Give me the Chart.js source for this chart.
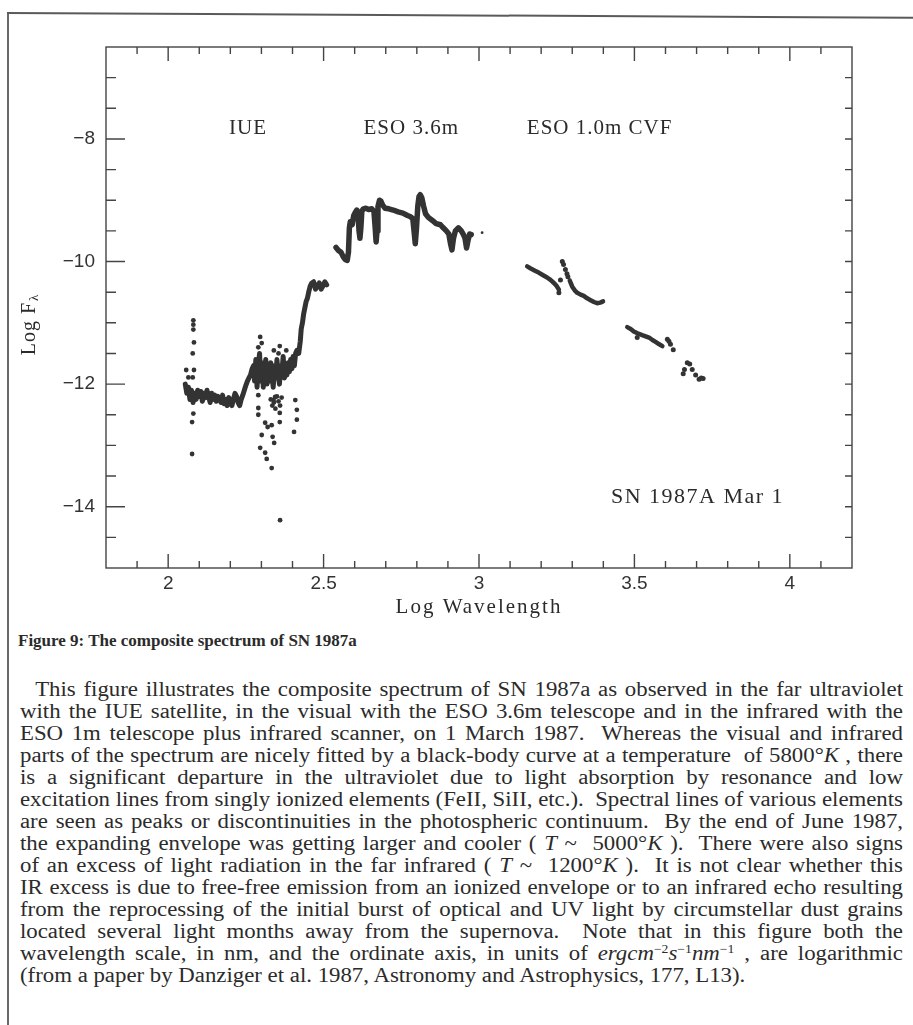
<!DOCTYPE html>
<html>
<head>
<meta charset="utf-8">
<script src="https://cdn.jsdelivr.net/npm/chart.js@4.4.0/dist/chart.umd.min.js"></script>
<style>
  body { margin: 0; background: #fff; width: 913px; height: 1025px; overflow: hidden; position: relative;
         font-family: "Liberation Serif", "Times New Roman", serif; color: #2b2b2b; }
  #pageLeft { position: absolute; left: 7px; top: 12px; height: 1013px; border-left: 2px solid #6a6a6a; }
  #pageTop { position: absolute; left: 7px; top: 12px; width: 906px; border-top: 2px solid #5a5a5a;
             transform: rotate(0.3deg); transform-origin: 0 0; }
  #chartBox { position: absolute; left: 0; top: 0; width: 913px; height: 625px; }
  #caption { position: absolute; left: 18px; top: 631px; font-weight: bold; font-size: 17px; line-height: 20px; }
  #text { position: absolute; left: 20px; top: 678px; transform-origin: 0 0; }
  .line { position: absolute; left: 0; white-space: pre; font-size: 20px; line-height: 22px; }
  sup { font-size: 0.6em; vertical-align: 0.55em; line-height: 0; }
</style>
</head>
<body>
<div id="pageLeft"></div>
<div id="pageTop"></div>
<div id="chartBox"><canvas id="spectrum" width="913" height="625"></canvas></div>
<div id="caption">Figure 9: The composite spectrum of SN 1987a</div>
<div id="text"></div>
<script>
// values: log wavelength (nm) vs log flux
// IUE: thick noisy band + the rise into the visual
const iueX = [2.055, 2.060, 2.065, 2.070, 2.075, 2.080, 2.085, 2.090, 2.095, 2.100,
              2.105, 2.110, 2.115, 2.120, 2.125, 2.130, 2.135, 2.140, 2.145, 2.150,
              2.155, 2.160, 2.165, 2.170, 2.175, 2.180, 2.185, 2.190, 2.195, 2.200,
              2.205, 2.210, 2.215, 2.220, 2.225, 2.230, 2.235, 2.240, 2.245, 2.250,
              2.255, 2.260, 2.265, 2.270, 2.275,
              2.278, 2.282, 2.286, 2.290, 2.294, 2.298, 2.302, 2.306, 2.310, 2.314,
              2.318, 2.322, 2.326, 2.330, 2.334, 2.338, 2.342, 2.346, 2.350, 2.354,
              2.358, 2.362, 2.366, 2.370, 2.374, 2.378, 2.382, 2.386, 2.390, 2.394,
              2.398, 2.402, 2.406, 2.410,
              2.414, 2.420, 2.425, 2.428, 2.432, 2.436, 2.440, 2.444, 2.448, 2.452,
              2.457, 2.462, 2.468, 2.474, 2.480, 2.486, 2.492, 2.498, 2.504, 2.510];
const iueY = [-12.00, -12.15, -12.05, -12.25, -12.10, -12.30, -12.15, -12.25, -12.10, -12.20,
              -12.12, -12.28, -12.15, -12.22, -12.10, -12.20, -12.30, -12.15, -12.25, -12.18,
              -12.28, -12.20, -12.22, -12.30, -12.18, -12.32, -12.25, -12.35, -12.22, -12.30,
              -12.35, -12.25, -12.15, -12.20, -12.30, -12.35, -12.25, -12.18, -12.10, -12.02,
              -11.95, -11.90, -11.85, -11.75, -11.70,
              -11.95, -11.60, -12.05, -11.70, -11.50, -11.95, -11.65, -12.05, -11.80, -11.60,
              -12.00, -11.75, -11.95, -11.65, -11.85, -12.05, -11.70, -11.90, -11.60, -11.85,
              -12.00, -11.70, -11.80, -11.55, -11.90, -11.70, -11.85, -11.65, -11.80, -11.60,
              -11.75, -11.55, -11.70, -11.50,
              -11.45, -11.50, -11.30, -11.10, -11.00, -10.85, -10.75, -10.65, -10.60, -10.50,
              -10.40, -10.35, -10.33, -10.45, -10.40, -10.35, -10.45, -10.40, -10.33, -10.38];
// IUE scattered single points
const iueDotX = [2.081, 2.081, 2.081, 2.083, 2.079, 2.058, 2.083, 2.065, 2.079, 2.081, 2.077, 2.077,
                 2.290, 2.290, 2.290, 2.312, 2.301, 2.296, 2.312, 2.317, 2.333, 2.360,
                 2.320, 2.333, 2.336, 2.341, 2.359, 2.359, 2.339, 2.344, 2.409, 2.414, 2.414, 2.405,
                 2.296, 2.301, 2.359, 2.290, 2.355, 2.340, 2.380,
                 2.330, 2.340, 2.350, 2.360, 2.345, 2.355, 2.365, 2.335];
const iueDotY = [-10.96, -11.03, -11.11, -11.32, -11.50, -11.77, -11.77, -11.89, -11.89, -12.48, -12.62, -13.14,
                 -12.18, -12.39, -12.50, -12.63, -12.83, -13.04, -13.12, -13.22, -13.37, -14.22,
                 -12.70, -12.67, -12.86, -12.96, -12.62, -12.47, -12.26, -12.21, -12.26, -12.42, -12.58, -12.78,
                 -11.23, -11.33, -11.38, -11.40, -11.50, -11.45, -11.45,
                 -12.25, -12.30, -12.20, -12.35, -12.40, -12.28, -12.22, -12.35];

// ESO 3.6m optical spectrum
const esoX = [2.540, 2.548, 2.556, 2.563, 2.570, 2.576, 2.580, 2.583, 2.586, 2.592,
              2.597, 2.602, 2.607, 2.611, 2.614, 2.617, 2.620, 2.623, 2.628, 2.636,
              2.645, 2.655, 2.662, 2.666, 2.669, 2.672, 2.675, 2.680, 2.684, 2.690,
              2.698, 2.710, 2.724, 2.740, 2.755, 2.770, 2.780, 2.787, 2.791, 2.795,
              2.799, 2.803, 2.807, 2.811, 2.816, 2.822, 2.828, 2.837, 2.850, 2.862,
              2.876, 2.885, 2.895, 2.903, 2.908, 2.913, 2.918, 2.924, 2.934, 2.943,
              2.950, 2.955, 2.960, 2.965, 2.970, 2.975];
const esoY = [-9.77, -9.82, -9.85, -9.92, -9.97, -9.98, -9.85, -9.45, -9.35, -9.40,
              -9.25, -9.20, -9.16, -9.22, -9.50, -9.62, -9.45, -9.18, -9.14, -9.13,
              -9.15, -9.14, -9.18, -9.45, -9.68, -9.50, -9.10, -9.00, -9.01, -9.08,
              -9.13, -9.14, -9.16, -9.19, -9.21, -9.25, -9.27, -9.30, -9.50, -9.71,
              -9.45, -9.10, -8.94, -8.91, -8.96, -9.10, -9.22, -9.28, -9.33, -9.38,
              -9.40, -9.45, -9.50, -9.55, -9.70, -9.81, -9.62, -9.50, -9.45, -9.50,
              -9.56, -9.62, -9.78, -9.65, -9.55, -9.56];
const esoDotX = [3.010];
const esoDotY = [-9.53];

// ESO 1.0m CVF infrared points (null = gap between scans)
const cvfX = [3.155, 3.165, 3.180, 3.192, 3.205, 3.219, 3.230, 3.241, 3.250, 3.257, 3.258,
              3.292, 3.300, 3.308, 3.316, 3.327, 3.337, 3.348, 3.359, 3.370, 3.380, 3.390, 3.399, 3.400,
              3.477, 3.488, 3.498, 3.510, 3.525, 3.536, 3.547, 3.558, 3.568, 3.580, 3.590];
const cvfY = [-10.08, -10.11, -10.15, -10.18, -10.22, -10.26, -10.30, -10.35, -10.40, -10.46, null,
              -10.31, -10.41, -10.47, -10.51, -10.54, -10.56, -10.60, -10.63, -10.66, -10.68, -10.67, -10.65, null,
              -11.07, -11.10, -11.14, -11.17, -11.20, -11.22, -11.24, -11.28, -11.31, -11.35, -11.38];
const cvfDotX = [3.262, 3.257, 3.268, 3.272, 3.278, 3.283, 3.286, 3.509, 3.606, 3.611, 3.616, 3.625,
                 3.670, 3.678, 3.661, 3.686, 3.657, 3.697, 3.708, 3.715, 3.721];
const cvfDotY = [-10.30, -10.51, -10.00, -10.05, -10.13, -10.20, -10.25, -11.24, -11.27, -11.30, -11.35, -11.44,
                 -11.65, -11.67, -11.76, -11.76, -11.83, -11.85, -11.92, -11.90, -11.91];

const xTicks = [2, 2.5, 3, 3.5, 4];
const yTicks = [-14, -12, -10, -8];
const instruments = ['IUE', 'ESO 3.6m', 'ESO 1.0m CVF'];
const instrumentX = [2.257, 2.782, 3.388];

const INK = '#333';

function pts(xs, ys) {
    return xs.map((x, i) => ({x: x, y: ys[i]}));
}

function isIn(list, v) {
    return list.some(t => Math.abs(t - v) < 1e-6);
}

// frame, inward ticks on all four sides and the in-plot texts
const framePlugin = {
    id: 'frame',
    afterDraw(chart) {
        const ctx = chart.ctx;
        const a = chart.chartArea;
        const x = chart.scales.x, y = chart.scales.y;
        ctx.save();
        ctx.strokeStyle = '#444';
        ctx.lineWidth = 1.4;
        ctx.strokeRect(a.left, a.top, a.right - a.left, a.bottom - a.top);
        ctx.beginPath();
        for (let i = 1; i < 24; i++) {
            const v = +(1.8 + i * 0.1).toFixed(2);
            const px = x.getPixelForValue(v);
            const len = isIn(xTicks, v) ? 14 : 7;
            ctx.moveTo(px, a.bottom); ctx.lineTo(px, a.bottom - len);
            ctx.moveTo(px, a.top); ctx.lineTo(px, a.top + len);
        }
        for (let i = 1; i < 17; i++) {
            const v = -15 + i * 0.5;
            const py = y.getPixelForValue(v);
            ctx.moveTo(a.left, py); ctx.lineTo(a.left + (isIn(yTicks, v) ? 19 : 10), py);
            ctx.moveTo(a.right, py); ctx.lineTo(a.right - 7, py);
        }
        ctx.stroke();

        ctx.fillStyle = '#2b2b2b';
        ctx.textAlign = 'center';
        ctx.textBaseline = 'middle';
        ctx.font = '21px "Liberation Serif"';
        ctx.letterSpacing = '1px';
        instruments.forEach((name, i) => {
            ctx.fillText(name, x.getPixelForValue(instrumentX[i]), y.getPixelForValue(-7.83));
        });
        ctx.font = '22px "Liberation Serif"';
        ctx.letterSpacing = '1.5px';
        ctx.fillText('SN 1987A Mar 1', x.getPixelForValue(3.703), y.getPixelForValue(-13.85));

        ctx.font = '21px "Liberation Serif"';
        ctx.letterSpacing = '2px';
        ctx.fillText('Log Wavelength', x.getPixelForValue(3.0), 607);
        ctx.letterSpacing = '1px';

        // rotated y title with subscript lambda
        ctx.translate(30, 325);
        ctx.rotate(-Math.PI / 2);
        ctx.textAlign = 'left';
        ctx.font = '20px "Liberation Serif"';
        const w1 = ctx.measureText('Log F').width;
        ctx.font = '13px "Liberation Serif"';
        const w2 = ctx.measureText('\u03bb').width;
        ctx.font = '20px "Liberation Serif"';
        ctx.fillText('Log F', -(w1 + w2) / 2, 0);
        ctx.font = '13px "Liberation Serif"';
        ctx.fillText('\u03bb', -(w1 + w2) / 2 + w1 + 1, 5);
        ctx.restore();
    }
};

const tickFont = {family: '"Liberation Sans", sans-serif', size: 19};

new Chart(document.getElementById('spectrum'), {
    type: 'scatter',
    data: {
        datasets: [
            {data: pts(iueX, iueY), showLine: true, borderColor: INK, borderWidth: 5, pointRadius: 0,
             borderJoinStyle: 'round', borderCapStyle: 'round'},
            {data: pts(iueDotX, iueDotY), backgroundColor: INK, borderWidth: 0, pointRadius: 2.4},
            {data: pts(esoX, esoY), showLine: true, borderColor: INK, borderWidth: 5.5, pointRadius: 0,
             borderJoinStyle: 'round', borderCapStyle: 'round'},
            {data: pts(esoDotX, esoDotY), backgroundColor: INK, borderWidth: 0, pointRadius: 1.4},
            {data: pts(cvfX, cvfY), showLine: true, spanGaps: false, borderColor: INK, borderWidth: 4.5,
             pointRadius: 0, borderJoinStyle: 'round', borderCapStyle: 'round'},
            {data: pts(cvfDotX, cvfDotY), backgroundColor: INK, borderWidth: 0, pointRadius: 2.5}
        ]
    },
    options: {
        responsive: false,
        animation: false,
        layout: {padding: {left: 0, top: 47, right: 61, bottom: 0}},
        plugins: {legend: {display: false}, tooltip: {enabled: false}},
        scales: {
            x: {
                type: 'linear', min: 1.8, max: 4.2,
                afterBuildTicks: s => { s.ticks = xTicks.map(v => ({value: v})); },
                afterFit: s => { s.height = 57; },
                grid: {display: false, drawTicks: false},
                border: {display: false},
                ticks: {color: '#333', font: tickFont, padding: 4, maxRotation: 0,
                        callback: v => String(v)}
            },
            y: {
                type: 'linear', min: -15, max: -6.5,
                afterBuildTicks: s => { s.ticks = yTicks.map(v => ({value: v})); },
                afterFit: s => { s.width = 106; },
                grid: {display: false, drawTicks: false},
                border: {display: false},
                ticks: {color: '#333', font: tickFont, padding: 11,
                        callback: v => '\u2212' + Math.abs(v)}
            }
        }
    },
    plugins: [framePlugin]
});

// caption paragraph, set line by line and justified like the printed page
const textLines = [
    '  This figure illustrates the composite spectrum of SN 1987a as observed in the far ultraviolet',
    'with the IUE satellite, in the visual with the ESO 3.6m telescope and in the infrared with the',
    'ESO 1m telescope plus infrared scanner, on 1 March 1987.  Whereas the visual and infrared',
    'parts of the spectrum are nicely fitted by a black-body curve at a temperature  of 5800\u00b0<i>K</i> , there',
    'is a significant departure in the ultraviolet due to light absorption by resonance and low',
    'excitation lines from singly ionized elements (FeII, SiII, etc.).  Spectral lines of various elements',
    'are seen as peaks or discontinuities in the photospheric continuum.  By the end of June 1987,',
    'the expanding envelope was getting larger and cooler ( <i>T</i> ~  5000\u00b0<i>K</i> ).  There were also signs',
    'of an excess of light radiation in the far infrared ( <i>T</i> ~  1200\u00b0<i>K</i> ).  It is not clear whether this',
    'IR excess is due to free-free emission from an ionized envelope or to an infrared echo resulting',
    'from the reprocessing of the initial burst of optical and UV light by circumstellar dust grains',
    'located several light months away from the supernova.  Note that in this figure both the',
    'wavelength scale, in nm, and the ordinate axis, in units of <i>ergcm</i><sup>\u22122</sup><i>s</i><sup>\u22121</sup><i>nm</i><sup>\u22121</sup> , are logarithmic',
    '(from a paper by Danziger et al. 1987, Astronomy and Astrophysics, 177, L13).'
];
const textBox = document.getElementById('text');
const lineEls = textLines.map((html, i) => {
    const el = document.createElement('div');
    el.className = 'line';
    el.style.top = (i * 22) + 'px';
    el.innerHTML = html;
    textBox.appendChild(el);
    return el;
});
const fullWidth = 883;
const widths = lineEls.map(el => el.getBoundingClientRect().width);
const scale = fullWidth / Math.max(...widths.slice(0, -1));
textBox.style.transform = 'scaleX(' + scale + ')';
lineEls.forEach((el, i) => {
    if (i === lineEls.length - 1) return;
    const spaces = (el.textContent.match(/ /g) || []).length;
    el.style.wordSpacing = ((fullWidth / scale - widths[i]) / spaces) + 'px';
});
</script>
</body>
</html>
